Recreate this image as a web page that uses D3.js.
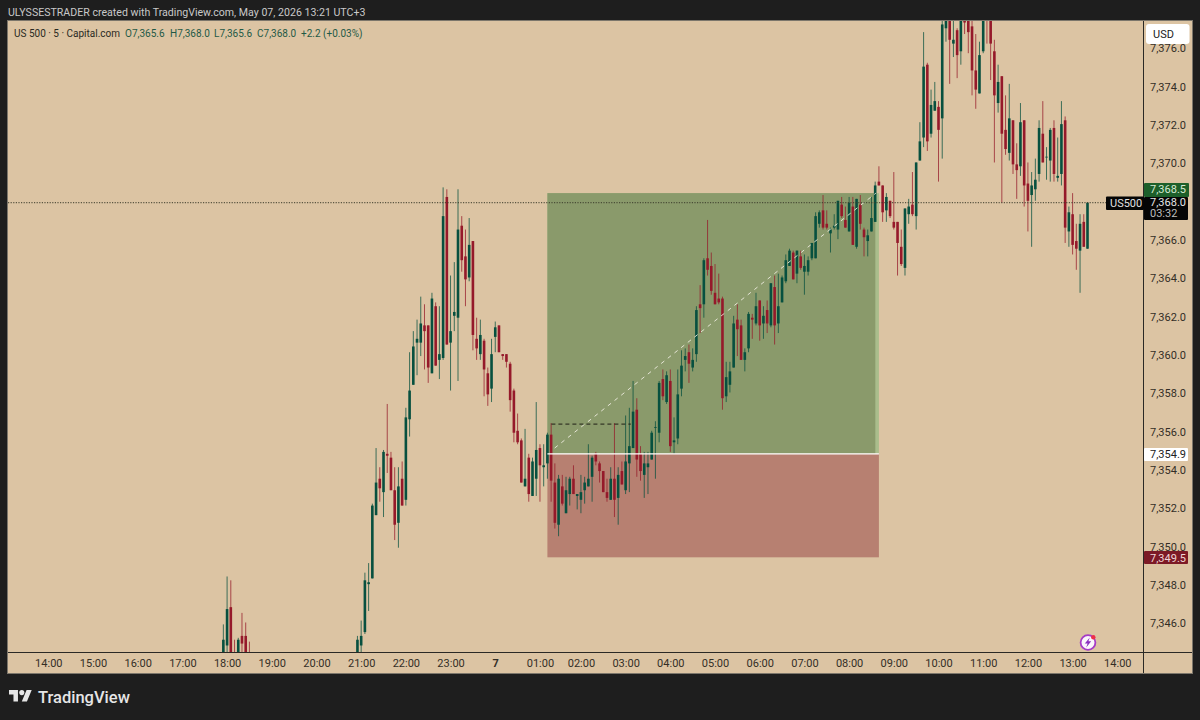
<!DOCTYPE html>
<html><head><meta charset="utf-8">
<script src="https://cdn.jsdelivr.net/npm/d3@7/dist/d3.min.js"></script>
<style>html,body{margin:0;padding:0;background:#1e1e1e;overflow:hidden}svg{display:block}text{font-family:Roboto,Inter,sans-serif}</style>
</head><body><svg id="c" width="1200" height="720"></svg>
<script>
// ---- Data ----
const earlyStart = Date.UTC(2026,4,6,17,55);
const earlyOpens  = [7344.0,7344.9,7346.9,7344.4,7344.3,7345.4,7345.4,7344.4];
const earlyHighs  = [7346.0,7348.5,7348.3,7345.2,7345.3,7346.6,7346.1,7345.1];
const earlyLows   = [7343.6,7344.4,7343.8,7343.7,7343.9,7344.2,7343.9,7343.8];
const earlyCloses = [7345.2,7346.8,7344.2,7344.0,7345.2,7345.0,7344.3,7344.1];

const mainStart = Date.UTC(2026,4,6,20,55);
const missingBar = Date.UTC(2026,4,7,1,50); // the time axis has one bar fewer between 01:00 and 02:00
const opens = [
7344.4,7344.9,7345.6,7348.1,7348.4,7351.7,7353.6,7352.9,7354.9,7354.7,
7353.0,7351.3,7353.6,7352.5,7356.7,7358.5,7360.7,7360.7,7361.6,7361.6,
7359.1,7362.6,7359.8,7359.9,7368.3,7360.7,7362.1,7362.0,7366.8,7365.2,
7364.1,7366.0,7360.9,7360.1,7360.8,7359.1,7358.3,7361.0,7361.6,7360.1,
7360.1,7359.6,7358.2,7356.1,7355.6,7353.2,7354.7,7352.7,7353.6,7355.2,
7354.2,7354.4,7355.9,7353.4,7351.2,7353.2,7351.8,7352.8,7353.6,7352.7,
7352.5,7353.0,7353.2,7353.7,7354.9,7354.4,7354.0,7352.9,7352.5,7353.6,
7352.6,7354.0,7353.0,7354.4,7355.2,7357.2,7354.9,7353.8,7354.2,7354.6,
7356.3,7356.0,7358.8,7357.6,7358.7,7355.5,7355.7,7358.3,7359.8,7360.2,
7359.4,7360.1,7362.7,7362.7,7365.1,7364.7,7363.3,7363.0,7363.0,7357.9,
7358.5,7359.4,7361.9,7361.6,7359.8,7360.4,7362.0,7361.7,7362.9,7361.7,
7362.4,7361.6,7363.6,7361.7,7362.8,7363.9,7364.7,7365.4,7364.3,7365.2,
7364.4,7364.4,7365.1,7365.1,7366.9,7367.6,7366.9,7366.4,7366.7,7366.6,
7367.9,7367.1,7366.5,7367.8,7365.7,7367.9,7366.6,7366.0,7366.5,7367.0,
7369.1,7368.9,7367.6,7368.1,7367.0,7367.0,7365.7,7364.6,7367.4,7367.9,
7367.3,7370.2,7371.4,7375.2,7371.6,7372.8,7373.0,7372.4,7377.1,7378.0,
7376.3,7377.0,7375.9,7378.2,7378.0,7377.2,7374.9,7373.7,7375.9,7378.5,
7377.8,7375.9,7373.2,7374.6,7371.8,7370.6,7372.3,7370.0,7369.9,7372.3,
7369.0,7368.4,7368.7,7369.5,7371.6,7370.4,7370.2,7371.9,7369.3,7369.5,
7372.3,7366.5,7367.4,7366.0,7365.5,7367.0,7365.6];
const highs = [
7345.4,7346.2,7348.7,7349.2,7352.3,7355.2,7354.2,7355.1,7357.5,7355.0,
7354.2,7354.2,7354.5,7357.3,7360.2,7361.3,7361.9,7363.1,7362.7,7361.6,
7363.3,7362.8,7362.6,7368.8,7368.7,7364.2,7364.9,7368.7,7367.3,7366.6,
7367.2,7366.0,7362.0,7361.9,7360.9,7359.4,7360.9,7361.8,7361.6,7360.1,
7360.1,7359.7,7358.3,7357.0,7355.7,7356.2,7354.9,7354.7,7357.6,7355.4,
7355.4,7356.0,7356.5,7354.4,7353.8,7353.8,7353.7,7353.7,7354.3,7352.8,
7353.8,7353.7,7355.4,7354.8,7355.0,7354.5,7354.0,7353.6,7354.2,7356.5,
7354.2,7354.5,7356.9,7357.3,7358.7,7357.8,7355.3,7355.0,7355.0,7356.1,
7356.6,7358.7,7359.3,7359.2,7359.3,7356.8,7359.3,7360.3,7360.4,7360.6,
7360.4,7362.6,7363.7,7365.1,7367.1,7365.4,7364.8,7364.3,7363.1,7359.7,
7359.7,7362.1,7362.7,7361.9,7360.4,7362.3,7362.2,7363.3,7362.9,7362.6,
7362.9,7363.8,7364.2,7364.3,7364.2,7365.3,7365.6,7365.5,7365.5,7365.5,
7365.3,7365.2,7365.9,7367.5,7367.6,7368.4,7367.6,7366.7,7367.4,7368.1,
7368.3,7367.8,7368.3,7368.3,7368.2,7368.4,7366.7,7366.6,7368.3,7369.1,
7369.9,7368.9,7368.5,7368.1,7369.6,7367.0,7366.6,7367.7,7368.2,7369.6,
7370.1,7372.2,7376.9,7375.3,7373.9,7374.3,7373.3,7378.0,7378.6,7378.5,
7377.9,7377.1,7378.2,7378.6,7378.4,7377.6,7376.8,7376.4,7378.5,7378.9,
7378.2,7376.5,7375.2,7374.6,7373.6,7374.2,7372.3,7371.1,7373.2,7372.3,
7370.1,7369.6,7370.3,7372.3,7373.3,7370.9,7371.9,7372.3,7371.4,7373.3,
7372.5,7367.8,7368.5,7366.9,7367.4,7367.4,7368.0];
const lows = [
7344.0,7344.3,7345.5,7346.7,7348.4,7351.7,7352.4,7351.6,7353.9,7353.0,
7350.4,7350.0,7352.2,7352.2,7355.8,7358.5,7359.0,7360.0,7359.3,7358.6,
7359.1,7359.5,7358.8,7359.8,7360.6,7358.2,7361.3,7358.7,7364.4,7362.6,
7363.9,7360.3,7359.8,7359.8,7357.9,7357.4,7357.6,7360.2,7360.2,7359.8,
7359.4,7357.1,7355.5,7355.4,7353.4,7353.2,7352.4,7352.7,7352.7,7352.4,
7353.2,7353.6,7352.4,7351.0,7350.6,7352.2,7351.8,7352.2,7352.8,7352.0,
7351.8,7352.3,7353.2,7352.4,7354.3,7353.4,7352.9,7352.4,7352.5,7351.6,
7351.2,7353.3,7352.8,7352.9,7355.2,7353.7,7353.5,7352.6,7352.8,7354.6,
7353.6,7355.5,7357.7,7357.5,7355.0,7354.9,7355.4,7357.9,7359.2,7358.6,
7359.2,7359.7,7361.2,7362.0,7364.2,7363.2,7362.7,7362.7,7357.2,7357.6,
7358.1,7359.4,7360.0,7359.8,7359.2,7360.2,7360.9,7361.6,7360.8,7360.9,
7361.2,7361.5,7360.6,7361.2,7362.8,7363.8,7364.7,7364.0,7363.8,7364.5,
7363.2,7364.2,7365.0,7365.1,7366.7,7366.6,7366.6,7365.4,7366.6,7366.1,
7367.2,7366.7,7366.5,7365.8,7365.6,7366.6,7365.2,7365.2,7366.5,7367.0,
7368.9,7367.0,7367.0,7367.2,7366.6,7364.2,7364.7,7364.2,7366.9,7367.3,
7366.6,7370.2,7370.9,7370.7,7371.4,7372.8,7369.1,7370.3,7376.4,7374.2,
7375.6,7374.5,7375.2,7376.8,7375.8,7373.6,7372.9,7373.7,7375.8,7376.3,
7374.4,7370.1,7372.7,7368.0,7370.5,7370.2,7369.5,7368.2,7369.4,7367.8,
7366.5,7365.7,7368.1,7369.1,7370.1,7369.2,7369.1,7369.1,7369.1,7368.9,
7365.9,7365.7,7365.3,7364.5,7363.3,7365.7,7365.6];
const closes = [
7345.2,7345.4,7348.3,7348.2,7352.2,7353.4,7353.1,7355.0,7354.8,7353.0,
7351.2,7353.2,7352.2,7356.8,7358.2,7360.5,7360.9,7361.7,7361.3,7359.4,
7363.0,7359.5,7360.1,7367.3,7360.6,7361.3,7362.3,7366.6,7365.0,7364.0,
7365.8,7361.1,7360.4,7361.1,7359.3,7358.0,7360.1,7361.5,7360.2,7360.0,
7359.7,7357.7,7356.0,7355.5,7353.4,7353.6,7352.8,7354.5,7355.1,7354.3,
7354.3,7355.9,7353.5,7351.3,7353.6,7352.3,7353.0,7353.6,7352.8,7352.8,
7352.9,7353.4,7353.6,7354.7,7354.5,7354.0,7352.9,7352.6,7353.6,7352.5,
7353.8,7353.3,7354.5,7355.3,7357.1,7354.6,7354.0,7354.4,7354.4,7356.0,
7356.3,7358.6,7357.9,7359.0,7355.3,7355.6,7358.0,7359.5,7360.0,7359.6,
7359.8,7362.4,7362.5,7365.0,7364.5,7363.4,7362.7,7362.8,7357.8,7358.9,
7359.2,7361.7,7361.4,7359.8,7360.2,7362.2,7361.9,7362.6,7361.6,7362.1,
7361.7,7363.8,7361.6,7362.6,7364.1,7365.0,7365.5,7364.0,7365.5,7364.6,
7364.7,7365.0,7365.9,7367.3,7367.5,7366.7,7366.7,7366.6,7366.8,7368.1,
7367.3,7366.7,7368.0,7365.8,7368.2,7366.9,7366.2,7366.3,7367.2,7368.9,
7368.9,7367.5,7368.3,7367.3,7366.7,7365.9,7364.8,7367.7,7367.8,7367.4,
7370.1,7371.2,7375.1,7371.2,7373.1,7373.3,7371.8,7377.3,7378.0,7376.5,
7376.5,7375.7,7377.5,7377.4,7376.9,7374.9,7373.9,7375.7,7378.2,7378.0,
7376.3,7373.6,7374.3,7371.6,7370.8,7372.4,7370.0,7369.7,7372.2,7368.9,
7368.1,7368.9,7369.2,7371.9,7370.1,7370.4,7371.8,7369.5,7369.4,7372.1,
7366.7,7367.5,7365.8,7365.6,7366.9,7365.7,7368.0];

const priceTicks = [7346,7348,7350,7352,7354,7356,7358,7360,7362,7364,7366,7370,7372,7374,7376];
const timeTickLabels = ["14:00","15:00","16:00","17:00","18:00","19:00","20:00","21:00","22:00","23:00","7","01:00","02:00","03:00","04:00","05:00","06:00","07:00","08:00","09:00","10:00","11:00","12:00","13:00","14:00"];
const targetPrice = 7368.5, entryPrice = 7354.9, stopPrice = 7349.5, lastPrice = 7368.0;
const dashPrice = 7356.45;
const toolStart = Date.UTC(2026,4,7,1,10), toolEnd = Date.UTC(2026,4,7,8,40);
const dashEnd = Date.UTC(2026,4,7,3,7);
const legendParts = ["O7,365.6","H7,368.0","L7,365.6","C7,368.0","+2.2 (+0.03%)"];

// ---- Layout ----
const svg = d3.select("#c");
const BG="#dcc4a3", DARK="#1e1e1e", UP="#07503f", DOWN="#95192a", INK="#332e26";
const FS="11px";
const L=8,R=1192,T=21,B=673,AX=1143.5,AY=652.5;
const x = d3.scaleUtc()
  .domain([Date.UTC(2026,4,6,14),missingBar,missingBar+3e5,Date.UTC(2026,4,7,14)])
  .range([48.3,577.2,577.2,1117.3]);
const y = d3.scaleLinear().domain([7346,7374]).range([624.4,87.7]);

svg.append("rect").attr("width",1200).attr("height",720).attr("fill",DARK);
svg.append("rect").attr("x",L-.5).attr("y",T-.5).attr("width",R-L+1).attr("height",B-T+1).attr("fill",BG).attr("stroke","#7c766b");
svg.append("defs").append("clipPath").attr("id","plot").append("rect").attr("x",L).attr("y",T).attr("width",AX-L).attr("height",AY-T);
const plot = svg.append("g").attr("clip-path","url(#plot)");

// position tool
plot.append("rect").attr("x",x(toolStart)).attr("y",y(targetPrice)).attr("width",x(toolEnd)-x(toolStart)).attr("height",y(entryPrice)-y(targetPrice)).attr("fill","#aabd8c");
plot.append("rect").attr("x",x(toolStart)).attr("y",y(targetPrice)).attr("width",x(toolEnd)-x(toolStart)-3.6).attr("height",y(entryPrice)-y(targetPrice)).attr("fill","#8a9a6b");
plot.append("rect").attr("x",x(toolStart)).attr("y",y(entryPrice)).attr("width",x(toolEnd)-x(toolStart)).attr("height",y(stopPrice)-y(entryPrice)).attr("fill","#b78071");

// candles
const candles = [];
earlyOpens.forEach((o,i)=>candles.push({t:earlyStart+i*3e5,o,h:earlyHighs[i],l:earlyLows[i],c:earlyCloses[i]}));
opens.forEach((o,i)=>{
  let t = mainStart+i*3e5; if(t>=missingBar) t+=3e5;
  candles.push({t,o,h:highs[i],l:lows[i],c:closes[i]});
});
const col = d=>d.c>=d.o?UP:DOWN;
plot.append("g").selectAll("line").data(candles).join("line")
  .attr("x1",d=>x(d.t)).attr("x2",d=>x(d.t)).attr("y1",d=>y(d.h)).attr("y2",d=>y(d.l))
  .attr("stroke",col).attr("stroke-width",1).attr("stroke-opacity",.75);
plot.append("g").selectAll("rect").data(candles).join("rect")
  .attr("x",d=>x(d.t)-1.3).attr("width",2.6)
  .attr("y",d=>y(Math.max(d.o,d.c))).attr("height",d=>Math.max(.8,Math.abs(y(d.o)-y(d.c))))
  .attr("fill",col);

// tool lines
plot.append("line").attr("x1",x(toolStart)).attr("x2",x(toolEnd)).attr("y1",y(entryPrice)).attr("y2",y(entryPrice)).attr("stroke","#fff").attr("stroke-width",1.2);
const diagFrom = d3.interpolateNumber(x(toolStart),x(toolEnd)-3), diagY = d3.interpolateNumber(y(entryPrice),y(targetPrice));
plot.append("line").attr("x1",diagFrom(.022)).attr("x2",diagFrom(1)).attr("y1",diagY(.022)).attr("y2",diagY(1))
  .attr("stroke","#f4f1e6").attr("stroke-opacity",.85).attr("stroke-width",1).attr("stroke-dasharray","4 4.5");
plot.append("line").attr("x1",x(toolStart)+4).attr("x2",x(dashEnd)).attr("y1",y(dashPrice)).attr("y2",y(dashPrice))
  .attr("stroke","#1f1f16").attr("stroke-width",1).attr("stroke-dasharray","4 3");
svg.append("line").attr("x1",L).attr("x2",1106).attr("y1",y(lastPrice)).attr("y2",y(lastPrice))
  .attr("stroke","#3a3a2a").attr("stroke-width",1).attr("stroke-dasharray","1.2 1.4");

// axes
const priceAxis = d3.axisRight(y).tickValues(priceTicks).tickSize(0).tickPadding(6).tickFormat(d3.format(",.1f"));
const gy = svg.append("g").attr("transform",`translate(${AX},0)`).call(priceAxis);
gy.select(".domain").remove();
gy.selectAll("text").attr("fill",INK).style("font-size",FS).attr("dy","0.3em").attr("x",6.5).attr("y",-1);
const timeValues = timeTickLabels.map((s,i)=>Date.UTC(2026,4,6,14+i));
const timeAxis = d3.axisBottom(x).tickValues(timeValues).tickSize(0).tickPadding(0)
  .tickFormat(v=>timeTickLabels[timeValues.indexOf(+v)]);
const gx = svg.append("g").attr("transform",`translate(0,${AY})`).call(timeAxis);
gx.select(".domain").remove();
gx.selectAll("text").attr("fill",INK).style("font-size",FS).attr("y",10.5).attr("dy","0.35em")
  .style("font-weight",d=>timeTickLabels[timeValues.indexOf(+d)]==="7"?"700":"400");
svg.append("line").attr("x1",L).attr("x2",R).attr("y1",AY).attr("y2",AY).attr("stroke","#2b2925");
svg.append("line").attr("x1",AX).attr("x2",AX).attr("y1",T).attr("y2",B).attr("stroke","#2b2925");

// price badges
function badge(x0,x1,y0,y1,fill,lines){
  svg.append("rect").attr("x",x0).attr("y",y0).attr("width",x1-x0).attr("height",y1-y0).attr("rx",1).attr("fill",fill);
  lines.forEach(l=>svg.append("text").attr("x",l.x).attr("y",l.y).attr("fill",l.c).style("font-size",FS).text(l.t));
}
const bx=1150;
badge(1144,1189,183,197,"#1d5f2a",[{x:bx,y:193.2,c:"#d6ead4",t:d3.format(",.1f")(targetPrice)}]);
badge(1144,1188,197,220,"#050505",[{x:bx,y:206,c:"#e6e6e6",t:d3.format(",.1f")(lastPrice)},{x:bx,y:217,c:"#bdbdbd",t:"03:32"}]);
badge(1106,1144,196.5,210,"#050505",[{x:1110,y:207,c:"#e0e0e0",t:"US500"}]);
badge(1144,1188,448,461,"#ffffff",[{x:bx,y:458,c:"#222",t:d3.format(",.1f")(entryPrice)}]);
badge(1144,1188,551,564,"#7c1a26",[{x:bx,y:561.5,c:"#f0d6d6",t:d3.format(",.1f")(stopPrice)}]);
svg.append("rect").attr("x",1146).attr("y",24).attr("width",43.5).attr("height",20).attr("rx",3).attr("fill","#fff");
svg.append("text").attr("x",1153).attr("y",38).attr("fill","#222").style("font-size",FS).text("USD");

// header & legend
svg.append("text").attr("x",8).attr("y",16).attr("fill","#c9c9c9").style("font-size","10.6px").text("ULYSSESTRADER created with TradingView.com, May 07, 2026 13:21 UTC+3");
svg.append("text").attr("x",14).attr("y",36.5).attr("fill","#2a2a22").style("font-size","10px").text("US 500 · 5 · Capital.com");
const legendX=[125,170,214,257,301];
legendParts.forEach((t,i)=>svg.append("text").attr("x",legendX[i]).attr("y",36.5).attr("fill","#1f5a46").style("font-size","10px").text(t));

// footer logo
const logo = svg.append("g").attr("transform","translate(9,687.5) scale(.64)").attr("fill","#e6e6e6");
logo.append("path").attr("d","M14 22H7V11H0V4h14v18zM28 22h-8l7.5-18h8L28 22z");
logo.append("circle").attr("cx",20).attr("cy",8).attr("r",4);
svg.append("text").attr("x",38).attr("y",703).attr("fill","#e6e6e6").style("font-size","16.5px").style("font-weight","500").text("TradingView");

// alert icon
const ic = svg.append("g").attr("transform","translate(1088,642.5)");
ic.append("circle").attr("r",7.4).attr("fill","#fbf6fb").attr("stroke","#a63cc6").attr("stroke-width",1.8);
ic.append("path").attr("d","M1.8 -5 L-3.2 1 L-.4 1 L-1.8 5 L3.2 -1.2 L.4 -1.2 Z").attr("fill","#8a2fc0");
ic.append("circle").attr("cx",5.3).attr("cy",-5.3).attr("r",2.2).attr("fill","#ee2f4a");
</script></body></html>
